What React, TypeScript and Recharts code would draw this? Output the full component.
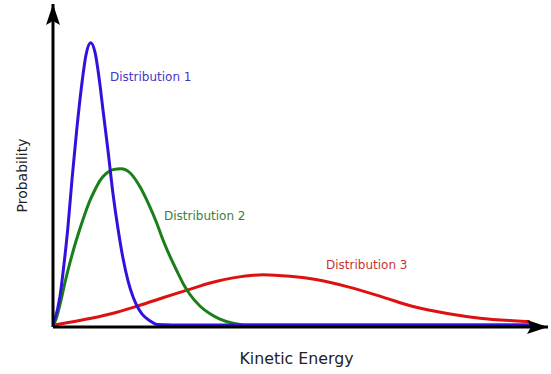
import React from 'react';
import { LineChart, Line, XAxis, YAxis, ReferenceDot } from 'recharts';

// Distribution 1 (blue) – energy / probability
const dist1X = [0, 1.56, 2.44, 3.27, 4.22, 5.27, 6.51, 7.33, 8.38, 9.33, 10.44, 11.1, 12.2, 13.3, 14.4, 15.6, 16.7, 17.8, 18.7, 19.8, 21.6, 23.1, 30, 60, 106];
const dist1Y = [0, 9.2, 19.3, 30.4, 46.2, 62, 77.8, 85.8, 89.7, 86.7, 76.3, 68.4, 55.7, 42.1, 31, 20.9, 13.9, 8.9, 6, 3.5, 1.3, 0.2, 0, 0, 0];

// Distribution 2 (green)
const dist2X = [0, 0.67, 1.56, 2.67, 3.78, 4.89, 6, 7.11, 8.22, 9.33, 10.44, 11.78, 13.33, 15.11, 17.1, 19.3, 21.1, 23, 24.4, 26, 27.6, 29, 30.4, 32.7, 34.9, 37.1, 40, 42.7, 60, 106];
const dist2Y = [0, 1.9, 6.6, 13.6, 19.9, 25.6, 30.7, 35.4, 39.6, 43, 45.9, 48.1, 49.4, 49.7, 48.4, 44, 38.9, 32.6, 27.2, 21.8, 17, 13, 9.8, 6, 3.6, 1.9, 0.6, 0, 0, 0];

// Distribution 3 (red)
const dist3X = [0, 3.78, 8.2, 14.2, 19.3, 24.4, 29.8, 34.9, 40, 46.7, 52.7, 58.7, 66, 73.3, 80, 87.6, 94.9, 102.2, 106];
const dist3Y = [0, 0.9, 2.1, 4.1, 6.3, 8.7, 11.1, 13.4, 15, 16, 15.5, 14.4, 12, 8.9, 5.9, 3.7, 2.2, 1.4, 1.1];

const seriesNames = ['Distribution 1', 'Distribution 2', 'Distribution 3'];
// label anchor points (left/baseline of text) in data units
const labelX = [12.67, 24.67, 60.67];
const labelY = [77.4, 33.3, 17.7];

const xTitle = 'Kinetic Energy';
const yTitle = 'Probability';
const xDomain: [number, number] = [0, 110];
const yDomain: [number, number] = [-0.6, 102];

const toPoints = (xs: number[], ys: number[]) => xs.map((x, i) => ({ x, y: ys[i] }));
const d1 = toPoints(dist1X, dist1Y);
const d2 = toPoints(dist2X, dist2Y);
const d3 = toPoints(dist3X, dist3Y);

const lineColors = ['#3311dd', '#1a7f1a', '#dd1111'];
const textColors = ['#4a35c8', '#3b7f3b', '#cc3333'];

const FONT = '"DejaVu Sans", Verdana, sans-serif';

const UpArrow = (p: any) => {
  const { cx, cy } = p;
  return (
    <path
      d={`M${cx},${cy} L${cx + 7},${cy + 21} L${cx},${cy + 17} L${cx - 7},${cy + 21} Z`}
      fill="#000"
    />
  );
};

const RightArrow = (p: any) => {
  const { cx, cy } = p;
  return (
    <path
      d={`M${cx},${cy} L${cx - 21},${cy - 7} L${cx - 17},${cy} L${cx - 21},${cy + 7} Z`}
      fill="#000"
    />
  );
};

const makeLabel = (i: number) => (p: any) => (
  <text
    x={p.cx}
    y={p.cy}
    fill={textColors[i]}
    fontSize={12}
    fontFamily={FONT}
    textAnchor="start"
  >
    {seriesNames[i]}
  </text>
);

const XTitle = (props: any) => {
  const vb = props.viewBox || {};
  const cx = vb.x + vb.width / 2 - 4;
  const y = vb.y + 37;
  return (
    <text x={cx} y={y} textAnchor="middle" fill="#222" fontSize={15.8} fontFamily={FONT}>
      {xTitle}
    </text>
  );
};

const YTitle = (props: any) => {
  const vb = props.viewBox || {};
  const cy = vb.y + vb.height / 2 + 10;
  const cx = vb.x + 27;
  return (
    <text
      x={cx}
      y={cy}
      transform={`rotate(-90, ${cx}, ${cy})`}
      textAnchor="middle"
      fill="#222"
      fontSize={14}
      fontFamily={FONT}
    >
      {yTitle}
    </text>
  );
};

export default function App() {
  return (
    <div style={{ position: 'absolute', left: 0, top: 0, background: '#fff' }}>
      <LineChart
        width={551}
        height={374}
        margin={{ top: 4, right: 3, left: 0, bottom: 0 }}
      >
        <XAxis
          dataKey="x"
          type="number"
          domain={xDomain}
          allowDataOverflow
          height={47}
          tick={false}
          tickLine={false}
          axisLine={{ stroke: '#000', strokeWidth: 3 }}
          label={<XTitle />}
        />
        <YAxis
          type="number"
          domain={yDomain}
          allowDataOverflow
          width={53}
          tick={false}
          tickLine={false}
          axisLine={{ stroke: '#000', strokeWidth: 3 }}
          label={<YTitle />}
        />
        <Line data={d3} dataKey="y" type="monotone" stroke={lineColors[2]} strokeWidth={3} dot={false} isAnimationActive={false} />
        <Line data={d2} dataKey="y" type="monotone" stroke={lineColors[1]} strokeWidth={3} dot={false} isAnimationActive={false} />
        <Line data={d1} dataKey="y" type="monotone" stroke={lineColors[0]} strokeWidth={3} dot={false} isAnimationActive={false} />
        {seriesNames.map((n, i) => (
          <ReferenceDot key={n} x={labelX[i]} y={labelY[i]} r={0} ifOverflow="visible" shape={makeLabel(i)} />
        ))}
        <ReferenceDot x={xDomain[0]} y={yDomain[1]} r={0} ifOverflow="visible" shape={UpArrow} />
        <ReferenceDot x={xDomain[1]} y={yDomain[0]} r={0} ifOverflow="visible" shape={RightArrow} />
      </LineChart>
    </div>
  );
}
